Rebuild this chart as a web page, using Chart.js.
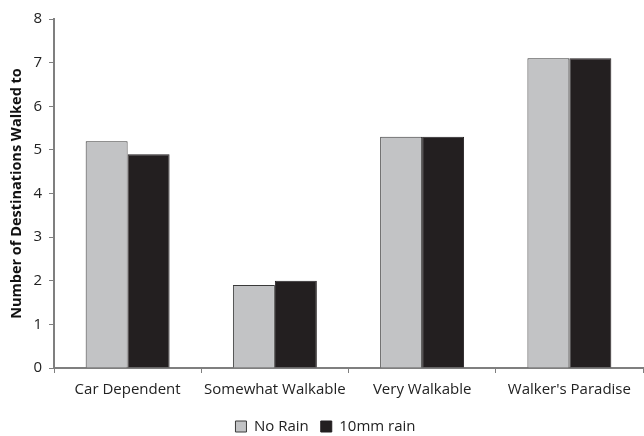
<!DOCTYPE html>
<html>
<head>
<meta charset="utf-8">
<script src="https://cdn.jsdelivr.net/npm/chart.js@4/dist/chart.umd.min.js"></script>
<style>
  html, body { margin: 0; padding: 0; background: #fff; }
  #wrap { width: 644px; height: 436px; }
</style>
</head>
<body>
<div id="wrap"><canvas id="c" width="644" height="436"></canvas></div>
<script>
// Walkability categories and the mean number of destinations walked to
const categories = ["Car Dependent", "Somewhat Walkable", "Very Walkable", "Walker's Paradise"];
const noRain = [5.2, 1.9, 5.3, 7.1];
const rain10mm = [4.9, 2.0, 5.3, 7.1];
const yTicks = [0, 1, 2, 3, 4, 5, 6, 7, 8];

const FONT = "'Open Sans', 'Liberation Sans', sans-serif";
const AXIS = '#7f7f7f';

new Chart(document.getElementById('c'), {
  type: 'bar',
  data: {
    labels: categories,
    datasets: [
      {
        label: 'No Rain',
        data: noRain,
        backgroundColor: '#c2c3c5',
        borderColor: '#3a3a3a',
        borderWidth: 1
      },
      {
        label: '10mm rain',
        data: rain10mm,
        backgroundColor: '#231f20',
        borderColor: '#231f20',
        borderWidth: 1
      }
    ]
  },
  options: {
    responsive: false,
    animation: false,
    devicePixelRatio: 1,
    layout: { padding: { top: 19, right: 1, left: 8, bottom: -8 } },
    datasets: { bar: { categoryPercentage: 0.57, barPercentage: 1.0 } },
    plugins: {
      tooltip: { enabled: false },
      legend: {
        position: 'bottom',
        labels: {
          color: '#222',
          font: { family: FONT, size: 15 },
          boxWidth: 11,
          boxHeight: 11,
          padding: 12
        }
      }
    },
    scales: {
      x: {
        grid: { drawOnChartArea: false, drawTicks: true, tickLength: 5, color: AXIS, offset: true },
        border: { color: AXIS, width: 2 },
        ticks: { color: '#222', font: { family: FONT, size: 15 }, padding: 8, maxRotation: 0 },
        afterFit(s) { s.height = 39; }
      },
      y: {
        min: 0,
        max: 8,
        afterBuildTicks(s) { s.ticks = yTicks.map(v => ({ value: v })); },
        grid: { drawOnChartArea: false, drawTicks: true, tickLength: 5, color: AXIS },
        border: { color: AXIS, width: 2 },
        ticks: { color: '#222', font: { family: FONT, size: 15 }, padding: 7 },
        title: {
          display: true,
          text: 'Number of Destinations Walked to',
          color: '#111',
          font: { family: FONT, size: 14.5, weight: 'bold' },
          padding: { top: 0, bottom: 2 }
        },
        afterFit(s) { s.width = 46; }
      }
    }
  }
});
</script>
</body>
</html>
